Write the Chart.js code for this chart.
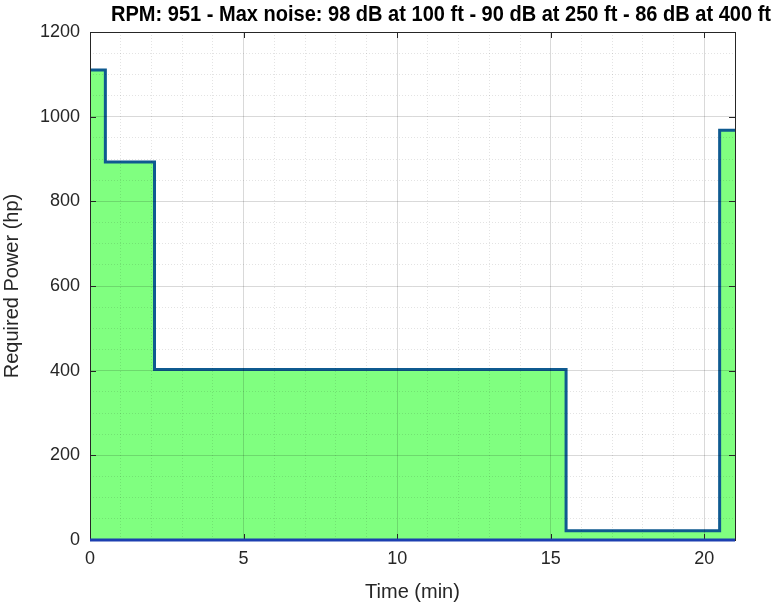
<!DOCTYPE html>
<html>
<head>
<meta charset="utf-8">
<script src="https://cdn.jsdelivr.net/npm/chart.js@4/dist/chart.umd.min.js"></script>
<style>
  html, body { margin: 0; padding: 0; background: #fff; }
  #wrap { width: 775px; height: 604px; position: relative; }
</style>
</head>
<body>
<div id="wrap"><canvas id="powerChart"></canvas></div>
<script>
(function () {
  'use strict';

  const TITLE = 'RPM: 951 - Max noise: 98 dB at 100 ft - 90 dB at 250 ft - 86 dB at 400 ft';

  // step profile: power holds from each time until the next one
  const stepTimes = [0, 0.5, 2.1, 15.5, 20.5, 21];
  const powerHp = [1110, 893, 403, 22, 968, 968];

  const baseTimes = [0, 21];
  const baseHp = [0, 0];

  const xTicks = [0, 5, 10, 15, 20];
  const yTicks = [0, 200, 400, 600, 800, 1000, 1200];

  const AXIS = '#262626';
  const FONT = 'Liberation Sans, Arial, sans-serif';

  const toPoints = (xs, ys) => xs.map((x, i) => ({ x: x, y: ys[i] }));

  const gridColor = (ctx, major) =>
    ctx.tick && ctx.tick.value % major === 0 ? 'rgba(0,0,0,0.15)' : 'rgba(0,0,0,0.11)';
  const gridDash = (ctx, major) =>
    ctx.tick && ctx.tick.value % major !== 0 ? [1, 2] : [];

  // MATLAB-ish box, inward tick marks and title
  const boxPlugin = {
    id: 'box',
    afterDraw(chart) {
      const { ctx, chartArea: a, scales } = chart;
      ctx.save();
      ctx.strokeStyle = AXIS;
      ctx.lineWidth = 1;
      ctx.beginPath();
      xTicks.forEach((v) => {
        const px = Math.round(scales.x.getPixelForValue(v)) + 0.5;
        ctx.moveTo(px, a.bottom); ctx.lineTo(px, a.bottom - 6);
        ctx.moveTo(px, a.top); ctx.lineTo(px, a.top + 6);
      });
      yTicks.forEach((v) => {
        const py = Math.round(scales.y.getPixelForValue(v)) + 0.5;
        ctx.moveTo(a.left, py); ctx.lineTo(a.left + 6, py);
        ctx.moveTo(a.right, py); ctx.lineTo(a.right - 6, py);
      });
      ctx.stroke();
      ctx.strokeRect(Math.round(a.left) + 0.5, Math.round(a.top) + 0.5,
        Math.round(a.right - a.left), Math.round(a.bottom - a.top));

      // baseline edge of the area sits over the bottom axis
      const y0 = scales.y.getPixelForValue(0);
      ctx.strokeStyle = '#1c3fb0';
      ctx.lineWidth = 3;
      ctx.beginPath();
      ctx.moveTo(scales.x.getPixelForValue(baseTimes[0]), y0);
      ctx.lineTo(scales.x.getPixelForValue(baseTimes[1]), y0);
      ctx.stroke();

      ctx.fillStyle = '#000';
      ctx.font = 'bold 22px ' + FONT;
      ctx.textAlign = 'center';
      ctx.textBaseline = 'middle';
      ctx.fillText(TITLE, 441, 15, 660);
      ctx.restore();
    },
  };

  new Chart(document.getElementById('powerChart'), {
    type: 'line',
    data: {
      datasets: [{
        data: toPoints(stepTimes, powerHp),
        stepped: true,
        fill: 'origin',
        backgroundColor: '#80ff80',
        borderColor: '#0f5a90',
        borderWidth: 3,
        pointRadius: 0,
        clip: 0,
      }],
    },
    options: {
      responsive: true,
      maintainAspectRatio: false,
      animation: false,
      layout: { padding: { left: 0, right: 40, top: 32, bottom: 0 } },
      plugins: {
        legend: { display: false },
        tooltip: { enabled: false },
      },
      scales: {
        x: {
          type: 'linear',
          min: 0,
          max: 21,
          afterFit: (s) => { s.height = 64; },
          title: {
            display: true,
            text: 'Time (min)',
            color: AXIS,
            font: { family: FONT, size: 20 },
            padding: { top: 2, bottom: 0 },
          },
          ticks: {
            stepSize: 1,
            autoSkip: false,
            maxRotation: 0,
            color: AXIS,
            padding: 8,
            font: { family: FONT, size: 18 },
            callback: (v) => (xTicks.includes(v) ? v : ''),
          },
          grid: {
            z: 1,
            drawTicks: false,
            color: (ctx) => gridColor(ctx, 5),
            lineWidth: 1,
          },
          border: { display: false, dash: (ctx) => gridDash(ctx, 5) },
        },
        y: {
          min: 0,
          max: 1200,
          afterFit: (s) => { s.width = 90; },
          title: {
            display: true,
            text: 'Required Power (hp)',
            color: AXIS,
            font: { family: FONT, size: 20 },
            padding: { top: 0, bottom: 6 },
          },
          ticks: {
            stepSize: 50,
            autoSkip: false,
            color: AXIS,
            padding: 10,
            font: { family: FONT, size: 18 },
            callback: (v) => (yTicks.includes(v) ? v : ''),
          },
          grid: {
            z: 1,
            drawTicks: false,
            color: (ctx) => gridColor(ctx, 200),
            lineWidth: 1,
          },
          border: { display: false, dash: (ctx) => gridDash(ctx, 200) },
        },
      },
    },
    plugins: [boxPlugin],
  });
}());
</script>
</body>
</html>
